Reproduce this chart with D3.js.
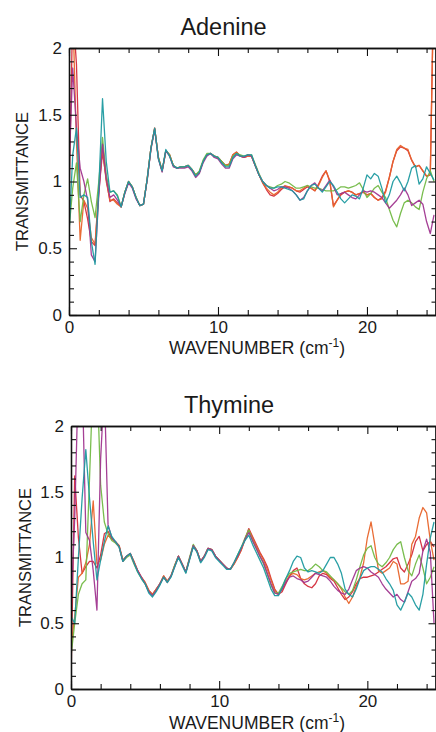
<!DOCTYPE html>
<html>
<head>
<meta charset="utf-8">
<script src="https://cdn.jsdelivr.net/npm/d3@7"></script>
<style>
  html, body { margin: 0; padding: 0; background: #fff; }
  svg { display: block; }
  text { font-family: "Liberation Sans", Arial, sans-serif; fill: #1a1a1a; }
</style>
</head>
<body>
<svg id="chart" width="436" height="732"></svg>
<script>
// Wavenumber grid (cm^-1)
const wavenumber = [
  0, 0.25, 0.5, 0.75, 1, 1.25, 1.5, 1.75, 2, 2.25,
  2.5, 2.75, 3, 3.25, 3.5, 3.75, 4, 4.25, 4.5, 4.75,
  5, 5.25, 5.5, 5.75, 6, 6.25, 6.5, 6.75, 7, 7.25,
  7.5, 7.75, 8, 8.25, 8.5, 8.75, 9, 9.25, 9.5, 9.75,
  10, 10.25, 10.5, 10.75, 11, 11.25, 11.5, 11.75, 12, 12.25,
  12.5, 12.75, 13, 13.25, 13.5, 13.75, 14, 14.25, 14.5, 14.75,
  15, 15.25, 15.5, 15.75, 16, 16.25, 16.5, 16.75, 17, 17.25,
  17.5, 17.75, 18, 18.25, 18.5, 18.75, 19, 19.25, 19.5, 19.75,
  20, 20.25, 20.5, 20.75, 21, 21.25, 21.5, 21.75, 22, 22.25,
  22.5, 22.75, 23, 23.25, 23.5, 23.75, 24, 24.25, 24.5
];

const seriesKeys = ["red", "orange", "green", "purple", "teal"];
const seriesColors = ["#d42b3a", "#e8642a", "#72b944", "#a0358f", "#1e9aa0"];

// Adenine transmittance
const adenineRed = [
  0.80, 2.30, 1.88, 0.90, 0.85, 0.72, 0.55, 0.52, 0.92, 1.22,
  1.02, 0.85, 0.87, 0.84, 0.81, 0.92, 1.00, 0.96, 0.88, 0.82,
  0.83, 1.02, 1.25, 1.40, 1.18, 1.08, 1.23, 1.20, 1.12, 1.10,
  1.11, 1.11, 1.12, 1.09, 1.05, 1.07, 1.15, 1.20, 1.21, 1.19,
  1.18, 1.15, 1.12, 1.13, 1.20, 1.22, 1.19, 1.18, 1.19, 1.19,
  1.12, 1.05, 0.99, 0.94, 0.90, 0.89, 0.91, 0.94, 0.96, 0.96,
  0.95, 0.93, 0.92, 0.94, 0.96, 0.95, 0.93, 0.98, 1.04, 1.08,
  1.00, 0.82, 0.86, 0.90, 0.92, 0.93, 0.92, 0.90, 0.91, 0.92,
  0.90, 0.91, 0.88, 0.86, 0.88, 0.93, 1.03, 1.15, 1.23, 1.26,
  1.25, 1.23, 1.16, 1.11, 1.12, 1.08, 1.04, 1.05, 2.60
];
const adenineOrange = [
  2.30, 2.30, 1.30, 0.56, 0.86, 0.80, 0.58, 0.53, 0.95, 1.25,
  1.00, 0.86, 0.86, 0.83, 0.81, 0.92, 1.00, 0.96, 0.88, 0.82,
  0.83, 1.02, 1.25, 1.40, 1.18, 1.08, 1.23, 1.20, 1.12, 1.10,
  1.11, 1.11, 1.12, 1.09, 1.05, 1.07, 1.15, 1.20, 1.21, 1.19,
  1.18, 1.15, 1.12, 1.13, 1.20, 1.22, 1.19, 1.18, 1.19, 1.19,
  1.12, 1.05, 0.99, 0.95, 0.92, 0.90, 0.92, 0.95, 0.97, 0.96,
  0.95, 0.93, 0.93, 0.95, 0.97, 0.95, 0.93, 0.97, 1.03, 1.08,
  1.01, 0.81, 0.86, 0.91, 0.92, 0.93, 0.92, 0.90, 0.91, 0.92,
  0.90, 0.91, 0.88, 0.86, 0.87, 0.92, 1.03, 1.15, 1.24, 1.27,
  1.25, 1.24, 1.16, 1.11, 1.12, 1.08, 1.04, 1.05, 2.60
];
const adenineGreen = [
  0.64, 0.95, 1.14, 0.70, 0.90, 1.02, 0.85, 0.73, 1.00, 1.33,
  1.05, 0.92, 0.93, 0.90, 0.81, 0.92, 1.00, 0.96, 0.88, 0.82,
  0.83, 1.02, 1.25, 1.39, 1.18, 1.08, 1.23, 1.20, 1.12, 1.10,
  1.11, 1.11, 1.12, 1.09, 1.05, 1.08, 1.16, 1.21, 1.21, 1.19,
  1.18, 1.15, 1.12, 1.12, 1.19, 1.21, 1.20, 1.19, 1.20, 1.20,
  1.13, 1.06, 1.00, 0.97, 0.96, 0.95, 0.97, 0.98, 1.00, 0.99,
  0.97, 0.95, 0.95, 0.96, 0.97, 0.96, 0.95, 0.95, 0.94, 0.93,
  0.93, 0.93, 0.94, 0.96, 0.96, 0.95, 0.96, 0.97, 0.99, 0.94,
  0.88, 0.91, 0.95, 0.97, 0.92, 0.88, 0.79, 0.71, 0.66, 0.76,
  0.84, 0.86, 0.84, 0.81, 0.79, 0.92, 1.02, 1.08, 1.00
];
const adeninePurple = [
  1.10, 1.85, 1.40, 1.10, 1.00, 0.86, 0.45, 0.40, 0.90, 1.28,
  1.02, 0.88, 0.90, 0.86, 0.81, 0.91, 0.99, 0.95, 0.87, 0.82,
  0.83, 1.01, 1.24, 1.39, 1.17, 1.07, 1.23, 1.19, 1.11, 1.10,
  1.10, 1.10, 1.11, 1.08, 1.03, 1.06, 1.14, 1.19, 1.21, 1.18,
  1.17, 1.13, 1.10, 1.10, 1.17, 1.20, 1.19, 1.18, 1.20, 1.19,
  1.12, 1.05, 1.00, 0.97, 0.95, 0.93, 0.94, 0.96, 0.96, 0.95,
  0.93, 0.90, 0.86, 0.88, 0.93, 0.97, 0.99, 0.95, 0.93, 0.97,
  1.01, 0.96, 0.90, 0.91, 0.92, 0.90, 0.88, 0.87, 0.90, 0.93,
  0.92, 0.93, 0.92, 0.90, 0.88, 0.84, 0.80, 0.83, 0.86, 0.90,
  0.95, 0.90, 0.82, 0.84, 0.86, 0.83, 0.70, 0.61, 0.75
];
const adenineTeal = [
  0.60, 1.20, 1.40, 0.88, 0.90, 0.88, 0.55, 0.38, 0.95, 1.62,
  1.15, 0.92, 0.93, 0.89, 0.81, 0.92, 1.00, 0.96, 0.88, 0.82,
  0.83, 1.02, 1.25, 1.40, 1.17, 1.08, 1.24, 1.19, 1.12, 1.10,
  1.11, 1.11, 1.12, 1.09, 1.04, 1.07, 1.15, 1.20, 1.21, 1.19,
  1.18, 1.14, 1.11, 1.11, 1.18, 1.21, 1.19, 1.19, 1.20, 1.20,
  1.12, 1.05, 1.00, 0.97, 0.95, 0.95, 0.96, 0.96, 0.95, 0.94,
  0.93, 0.90, 0.86, 0.87, 0.93, 0.97, 0.98, 0.95, 0.92, 0.96,
  1.00, 0.97, 0.92, 0.87, 0.84, 0.87, 0.90, 0.89, 0.87, 0.95,
  1.05, 1.02, 1.06, 1.04, 0.95, 0.84, 0.90, 1.00, 1.04, 0.99,
  0.93, 1.00, 1.10, 1.12, 0.98, 1.02, 1.11, 1.06, 1.01
];

// Thymine transmittance
const thymineRed = [
  0.05, 1.62, 1.15, 0.88, 0.93, 0.97, 0.97, 0.92, 1.02, 1.18,
  1.20, 1.14, 1.12, 1.09, 0.98, 1.01, 1.03, 0.97, 0.90, 0.85,
  0.81, 0.75, 0.72, 0.76, 0.80, 0.86, 0.82, 0.86, 0.94, 1.01,
  0.95, 0.89, 0.99, 1.09, 1.05, 0.97, 1.01, 1.07, 1.06, 1.01,
  0.98, 0.95, 0.92, 0.91, 0.95, 1.00, 1.06, 1.14, 1.22, 1.16,
  1.10, 1.04, 0.99, 0.93, 0.84, 0.76, 0.72, 0.74, 0.80, 0.86,
  0.90, 0.92, 0.84, 0.80, 0.78, 0.77, 0.80, 0.86, 0.88, 0.87,
  0.84, 0.82, 0.77, 0.72, 0.68, 0.70, 0.74, 0.80, 0.84, 0.85,
  0.85, 0.86, 0.87, 0.89, 0.91, 0.93, 0.96, 0.99, 1.00, 0.92,
  0.89, 0.95, 1.02, 1.12, 1.16, 1.05, 1.10, 1.12, 1.08
];
const thymineOrange = [
  0.32, 0.55, 0.85, 0.88, 0.96, 1.10, 1.43, 0.95, 0.98, 1.10,
  1.17, 1.14, 1.12, 1.09, 0.98, 1.01, 1.03, 0.97, 0.90, 0.85,
  0.81, 0.75, 0.72, 0.76, 0.80, 0.86, 0.82, 0.86, 0.94, 1.01,
  0.95, 0.89, 0.99, 1.09, 1.05, 0.97, 1.01, 1.07, 1.06, 1.01,
  0.98, 0.95, 0.92, 0.91, 0.95, 1.00, 1.06, 1.14, 1.21, 1.15,
  1.09, 1.03, 0.98, 0.91, 0.83, 0.75, 0.72, 0.76, 0.82, 0.86,
  0.88, 0.87, 0.84, 0.83, 0.84, 0.86, 0.88, 0.89, 0.90, 0.88,
  0.85, 0.83, 0.80, 0.76, 0.70, 0.65, 0.70, 0.78, 0.85, 0.96,
  1.15, 1.27, 1.10, 0.90, 0.88, 0.90, 0.92, 0.97, 0.95, 0.80,
  0.80, 0.82, 1.10, 1.16, 1.30, 1.38, 1.34, 1.13, 0.98
];
const thymineGreen = [
  0.25, 0.50, 0.72, 0.80, 0.83, 1.60, 2.40, 2.40, 1.55, 1.27,
  1.18, 1.13, 1.11, 1.08, 0.97, 1.00, 1.02, 0.95, 0.89, 0.84,
  0.80, 0.74, 0.71, 0.75, 0.80, 0.85, 0.81, 0.86, 0.94, 1.01,
  0.95, 0.89, 1.00, 1.10, 1.05, 0.97, 1.01, 1.07, 1.06, 1.01,
  0.98, 0.95, 0.92, 0.91, 0.96, 1.02, 1.08, 1.15, 1.21, 1.13,
  1.07, 1.01, 0.95, 0.87, 0.79, 0.73, 0.73, 0.78, 0.84, 0.88,
  0.89, 0.90, 0.91, 0.90, 0.90, 0.92, 0.95, 0.93, 0.90, 0.89,
  0.86, 0.83, 0.80, 0.77, 0.74, 0.72, 0.75, 0.83, 0.93, 1.02,
  1.07, 1.09, 1.00, 0.95, 0.93, 0.96, 1.00, 1.06, 1.10, 1.12,
  1.00, 0.90, 0.86, 0.95, 1.02, 0.92, 0.80, 0.85, 0.93
];
const thyminePurple = [
  0.60, 1.30, 2.40, 2.40, 1.19, 1.13, 0.90, 0.60, 1.75, 2.30,
  1.25, 1.15, 1.12, 1.08, 0.97, 1.01, 1.03, 0.96, 0.90, 0.85,
  0.80, 0.74, 0.71, 0.75, 0.80, 0.85, 0.81, 0.86, 0.93, 1.01,
  0.95, 0.89, 0.99, 1.09, 1.05, 0.97, 1.01, 1.07, 1.06, 1.01,
  0.98, 0.95, 0.92, 0.91, 0.96, 1.01, 1.07, 1.14, 1.19, 1.13,
  1.07, 1.01, 0.96, 0.88, 0.80, 0.73, 0.72, 0.76, 0.81, 0.85,
  0.86, 0.84, 0.83, 0.81, 0.82, 0.85, 0.88, 0.87, 0.86, 0.85,
  0.82, 0.78, 0.75, 0.73, 0.72, 0.76, 0.83, 0.90, 0.92, 0.93,
  0.92, 0.89, 0.87, 0.85, 0.80, 0.76, 0.73, 0.70, 0.72, 0.68,
  0.66, 0.74, 0.82, 0.84, 0.88, 1.05, 1.14, 1.04, 0.50
];
const thymineTeal = [
  0.55, 0.50, 1.00, 1.45, 1.82, 1.45, 1.12, 0.83, 0.98, 1.12,
  1.24, 1.16, 1.12, 1.08, 0.97, 1.01, 1.03, 0.96, 0.89, 0.84,
  0.80, 0.73, 0.70, 0.74, 0.79, 0.85, 0.81, 0.85, 0.93, 1.00,
  0.94, 0.88, 0.98, 1.08, 1.04, 0.96, 1.00, 1.06, 1.05, 1.00,
  0.97, 0.94, 0.91, 0.91, 0.96, 1.02, 1.08, 1.13, 1.17, 1.10,
  1.04, 0.98, 0.92, 0.84, 0.76, 0.71, 0.71, 0.77, 0.84, 0.90,
  0.97, 1.01, 1.00, 0.92, 0.89, 0.90, 0.89, 0.88, 0.90, 0.95,
  1.00, 1.00, 0.95, 0.88, 0.76, 0.72, 0.70, 0.76, 0.84, 0.90,
  0.92, 0.93, 0.93, 0.91, 0.89, 0.84, 0.80, 0.75, 0.64, 0.60,
  0.66, 0.73, 0.70, 0.64, 0.60, 0.72, 0.95, 1.15, 1.27
];

// Axis ticks and labels
const xMinorTicks = [0, 2, 4, 6, 8, 12, 14, 16, 18, 22, 24];
const xMajorTicks = [0, 10, 20];
const yMinorTicks = [0.1, 0.2, 0.3, 0.4, 0.6, 0.7, 0.8, 0.9, 1.1, 1.2, 1.3, 1.4, 1.6, 1.7, 1.8, 1.9];
const yMajorTicks = [0, 0.5, 1, 1.5, 2];
const yTickLabels = ["0", "0.5", "1", "1.5", "2"];

const panels = [
  {
    title: "Adenine",
    series: [adenineRed, adenineOrange, adenineGreen, adeninePurple, adenineTeal],
    left: 69, right: 435.5, top: 48, bottom: 315,
    titleX: 223.5, titleY: 35, yLabelX: 27.5, xLabelY: 354
  },
  {
    title: "Thymine",
    series: [thymineRed, thymineOrange, thymineGreen, thyminePurple, thymineTeal],
    left: 71, right: 435.5, top: 426, bottom: 689,
    titleX: 229, titleY: 413, yLabelX: 31, xLabelY: 729
  }
];

const svg = d3.select("#chart");

panels.forEach((p, pi) => {
  const x = d3.scaleLinear().domain([0, 24.6]).range([p.left, p.right]);
  const y = d3.scaleLinear().domain([0, 2]).range([p.bottom, p.top]);
  const g = svg.append("g");

  const clipId = "plot-clip-" + pi;
  svg.append("clipPath").attr("id", clipId)
    .append("rect")
    .attr("x", p.left).attr("y", p.top)
    .attr("width", p.right - p.left).attr("height", p.bottom - p.top);

  // Spectra
  const line = d3.line()
    .x((d, i) => x(wavenumber[i]))
    .y(d => y(d));
  const lines = g.append("g").attr("clip-path", `url(#${clipId})`);
  p.series.forEach((vals, si) => {
    lines.append("path")
      .datum(vals)
      .attr("d", line)
      .attr("fill", "none")
      .attr("stroke", seriesColors[si])
      .attr("stroke-width", 1.3)
      .attr("stroke-linejoin", "round")
      .attr("opacity", 0.95);
  });

  // Axes: ticks point into the plot on all four sides
  const styleAxis = sel => {
    sel.selectAll("path.domain").attr("stroke", "#111").attr("stroke-width", 1.3);
    sel.selectAll(".tick line").attr("stroke", "#111").attr("stroke-width", 1.1);
    sel.selectAll(".tick text")
      .attr("fill", "#1a1a1a")
      .style("font-family", "'Liberation Sans', Arial, sans-serif")
      .style("font-size", "17px");
  };

  g.append("g").attr("transform", `translate(0,${p.bottom})`)
    .call(d3.axisBottom(x).tickValues(xMinorTicks).tickSize(-5).tickSizeOuter(0).tickFormat(""))
    .call(styleAxis);
  g.append("g").attr("transform", `translate(0,${p.bottom})`)
    .call(d3.axisBottom(x).tickValues(xMajorTicks).tickSize(-8).tickSizeOuter(0).tickPadding(6).tickFormat(d3.format("d")))
    .call(styleAxis);

  g.append("g").attr("transform", `translate(0,${p.top})`)
    .call(d3.axisTop(x).tickValues(xMinorTicks).tickSize(-5).tickSizeOuter(0).tickFormat(""))
    .call(styleAxis);
  g.append("g").attr("transform", `translate(0,${p.top})`)
    .call(d3.axisTop(x).tickValues(xMajorTicks).tickSize(-8).tickSizeOuter(0).tickFormat(""))
    .call(styleAxis);

  g.append("g").attr("transform", `translate(${p.left},0)`)
    .call(d3.axisLeft(y).tickValues(yMinorTicks).tickSize(-5).tickSizeOuter(0).tickFormat(""))
    .call(styleAxis);
  g.append("g").attr("transform", `translate(${p.left},0)`)
    .call(d3.axisLeft(y).tickValues(yMajorTicks).tickSize(-8).tickSizeOuter(0).tickPadding(7)
      .tickFormat((d, i) => yTickLabels[i]))
    .call(styleAxis);

  g.append("g").attr("transform", `translate(${p.right},0)`)
    .call(d3.axisRight(y).tickValues(yMinorTicks).tickSize(-4).tickSizeOuter(0).tickFormat(""))
    .call(styleAxis);
  g.append("g").attr("transform", `translate(${p.right},0)`)
    .call(d3.axisRight(y).tickValues(yMajorTicks).tickSize(-7).tickSizeOuter(0).tickFormat(""))
    .call(styleAxis);

  // Title
  g.append("text")
    .attr("x", p.titleX).attr("y", p.titleY)
    .attr("text-anchor", "middle")
    .style("font-size", "23.5px")
    .text(p.title);

  // Y axis title
  g.append("text")
    .attr("transform", `translate(${p.yLabelX},${(p.top + p.bottom) / 2}) rotate(-90)`)
    .attr("text-anchor", "middle")
    .style("font-size", "16.5px")
    .text("TRANSMITTANCE");

  // X axis title with superscript
  const xt = g.append("text")
    .attr("x", 257).attr("y", p.xLabelY)
    .attr("text-anchor", "middle")
    .style("font-size", "17.5px");
  xt.append("tspan").text("WAVENUMBER (cm");
  xt.append("tspan").attr("dy", -7).style("font-size", "12px").text("-1");
  xt.append("tspan").attr("dy", 7).text(")");
});
</script>
</body>
</html>
